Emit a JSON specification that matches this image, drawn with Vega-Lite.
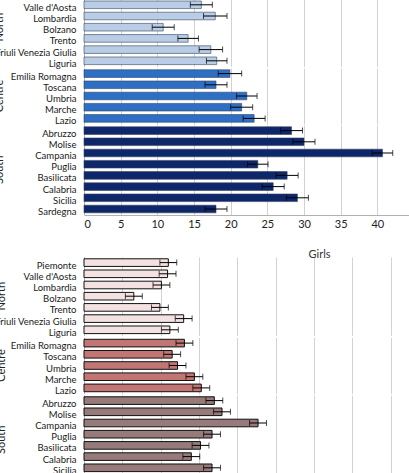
{
  "$schema": "https://vega.github.io/schema/vega-lite/v6.json",
  "padding": {"left": -6, "top": -12, "right": 0, "bottom": 0},
  "background": "white",
  "config": {
    "view": {"stroke": null},
    "font": "Lato",
    "scale": {"bandPaddingInner": 0.32, "bandPaddingOuter": 0.16},
    "axis": {"labelFont": "Lato", "labelColor": "#222", "ticks": false, "tickSize": 0, "domainColor": "#b0b0b0", "gridColor": "#d2d2d2", "title": null},
    "axisY": {"labelFont": "Liberation Sans Narrow, Lato", "labelFontSize": 9.5, "labelColor": "#1a1a1a"},
    "header": {"labelFont": "Lato", "labelFontSize": 11, "labelColor": "#222", "labelAngle": -90},
    "title": {"font": "Lato", "fontSize": 11, "fontWeight": "normal", "color": "#333"}
  },
  "datasets": {
    "boys": [
      {"group": "North", "region": "Piemonte", "value": 17.0, "lo": 15.5, "hi": 18.5},
      {"group": "North", "region": "Valle d'Aosta", "value": 16.0, "lo": 14.5, "hi": 17.5},
      {"group": "North", "region": "Lombardia", "value": 17.9, "lo": 16.3, "hi": 19.5},
      {"group": "North", "region": "Bolzano", "value": 10.8, "lo": 9.3, "hi": 12.3},
      {"group": "North", "region": "Trento", "value": 14.2, "lo": 12.8, "hi": 15.6},
      {"group": "North", "region": "Friuli Venezia Giulia", "value": 17.3, "lo": 15.7, "hi": 18.9},
      {"group": "North", "region": "Liguria", "value": 18.1, "lo": 16.7, "hi": 19.5},
      {"group": "Centre", "region": "Emilia Romagna", "value": 19.9, "lo": 18.3, "hi": 21.5},
      {"group": "Centre", "region": "Toscana", "value": 18.0, "lo": 16.5, "hi": 19.5},
      {"group": "Centre", "region": "Umbria", "value": 22.2, "lo": 20.8, "hi": 23.6},
      {"group": "Centre", "region": "Marche", "value": 21.5, "lo": 20.0, "hi": 23.0},
      {"group": "Centre", "region": "Lazio", "value": 23.2, "lo": 21.7, "hi": 24.7},
      {"group": "South", "region": "Abruzzo", "value": 28.3, "lo": 26.8, "hi": 29.8},
      {"group": "South", "region": "Molise", "value": 30.0, "lo": 28.5, "hi": 31.5},
      {"group": "South", "region": "Campania", "value": 40.7, "lo": 39.3, "hi": 42.1},
      {"group": "South", "region": "Puglia", "value": 23.7, "lo": 22.3, "hi": 25.1},
      {"group": "South", "region": "Basilicata", "value": 27.7, "lo": 26.2, "hi": 29.2},
      {"group": "South", "region": "Calabria", "value": 25.8, "lo": 24.3, "hi": 27.3},
      {"group": "South", "region": "Sicilia", "value": 29.1, "lo": 27.6, "hi": 30.6},
      {"group": "South", "region": "Sardegna", "value": 18.0, "lo": 16.5, "hi": 19.5}
    ],
    "girls": [
      {"group": "North", "region": "Piemonte", "value": 11.0, "lo": 9.9, "hi": 12.1},
      {"group": "North", "region": "Valle d'Aosta", "value": 10.9, "lo": 9.8, "hi": 12.0},
      {"group": "North", "region": "Lombardia", "value": 10.1, "lo": 9.0, "hi": 11.2},
      {"group": "North", "region": "Bolzano", "value": 6.5, "lo": 5.4, "hi": 7.6},
      {"group": "North", "region": "Trento", "value": 9.9, "lo": 8.8, "hi": 11.0},
      {"group": "North", "region": "Friuli Venezia Giulia", "value": 13.0, "lo": 11.9, "hi": 14.1},
      {"group": "North", "region": "Liguria", "value": 11.2, "lo": 10.1, "hi": 12.3},
      {"group": "Centre", "region": "Emilia Romagna", "value": 13.1, "lo": 12.0, "hi": 14.2},
      {"group": "Centre", "region": "Toscana", "value": 11.5, "lo": 10.4, "hi": 12.6},
      {"group": "Centre", "region": "Umbria", "value": 12.2, "lo": 11.1, "hi": 13.3},
      {"group": "Centre", "region": "Marche", "value": 14.4, "lo": 13.3, "hi": 15.5},
      {"group": "Centre", "region": "Lazio", "value": 15.3, "lo": 14.2, "hi": 16.4},
      {"group": "South", "region": "Abruzzo", "value": 17.0, "lo": 15.9, "hi": 18.1},
      {"group": "South", "region": "Molise", "value": 18.0, "lo": 16.9, "hi": 19.1},
      {"group": "South", "region": "Campania", "value": 22.7, "lo": 21.6, "hi": 23.8},
      {"group": "South", "region": "Puglia", "value": 16.7, "lo": 15.6, "hi": 17.8},
      {"group": "South", "region": "Basilicata", "value": 15.2, "lo": 14.1, "hi": 16.3},
      {"group": "South", "region": "Calabria", "value": 14.0, "lo": 12.9, "hi": 15.1},
      {"group": "South", "region": "Sicilia", "value": 16.7, "lo": 15.6, "hi": 17.8},
      {"group": "South", "region": "Sardegna", "value": 10.2, "lo": 9.1, "hi": 11.3}
    ]
  },
  "concat": [
    {
      "data": {"name": "boys"},
      "facet": {"row": {"field": "group", "type": "nominal", "sort": ["North", "Centre", "South"], "title": null,
        "header": {"labelPadding": 73}}},
      "spacing": 1,
      "bounds": "flush",
      "resolve": {"scale": {"y": "independent"}},
      "spec": {
        "width": 330,
        "height": {"step": 11.2},
        "encoding": {
          "y": {"field": "region", "type": "nominal", "sort": null,
            "axis": {"labelPadding": 8, "labelOffset": 3, "domain": true}}
        },
        "layer": [
          {
            "mark": {"type": "bar", "stroke": "#33415c", "strokeWidth": 0.6},
            "encoding": {
              "x": {"field": "value", "type": "quantitative", "scale": {"domain": [0, 45], "nice": false},
                "axis": {"values": [0, 5, 10, 15, 20, 25, 30, 35, 40], "grid": true, "labelFontSize": 11, "labelPadding": 3}},
              "color": {"field": "group", "type": "nominal", "legend": null,
                "scale": {"domain": ["North", "Centre", "South"], "range": ["#b9cde6", "#2e6fc6", "#0e276b"]}}
            }
          },
          {
            "mark": {"type": "errorbar", "color": "black", "ticks": {"size": 6, "thickness": 1}, "rule": {"strokeWidth": 1}},
            "encoding": {
              "x": {"field": "lo", "type": "quantitative", "title": null,
                "axis": {"values": [0, 5, 10, 15, 20, 25, 30, 35, 40], "grid": true, "labelFontSize": 11, "labelPadding": 3}},
              "x2": {"field": "hi"}
            }
          }
        ]
      }
    },
    {
      "data": {"name": "girls"},
      "title": {"text": "Girls", "anchor": "start", "frame": "bounds", "dx": 314, "offset": -3},
      "facet": {"row": {"field": "group", "type": "nominal", "sort": ["North", "Centre", "South"], "title": null,
        "header": {"labelPadding": 71}}},
      "spacing": 1.5,
      "bounds": "flush",
      "resolve": {"scale": {"y": "independent"}},
      "spec": {
        "width": 345,
        "height": {"step": 11.2},
        "encoding": {
          "y": {"field": "region", "type": "nominal", "sort": null,
            "axis": {"labelPadding": 8, "labelOffset": 3, "domain": true}}
        },
        "layer": [
          {
            "mark": {"type": "bar", "stroke": "#111", "strokeWidth": 1},
            "encoding": {
              "x": {"field": "value", "type": "quantitative", "scale": {"domain": [0, 45], "nice": false},
                "axis": {"values": [0, 5, 10, 15, 20, 25, 30, 35, 40], "grid": true, "labelFontSize": 11, "labelPadding": 3}},
              "color": {"field": "group", "type": "nominal", "legend": null,
                "scale": {"domain": ["North", "Centre", "South"], "range": ["#f3e2e1", "#c27674", "#977a7a"]}}
            }
          },
          {
            "mark": {"type": "errorbar", "color": "black", "ticks": {"size": 6, "thickness": 1}, "rule": {"strokeWidth": 1}},
            "encoding": {
              "x": {"field": "lo", "type": "quantitative", "title": null,
                "axis": {"values": [0, 5, 10, 15, 20, 25, 30, 35, 40], "grid": true, "labelFontSize": 11, "labelPadding": 3}},
              "x2": {"field": "hi"}
            }
          }
        ]
      }
    }
  ],
  "resolve": {"scale": {"color": "independent"}},
  "columns": 1,
  "align": "all",
  "spacing": 19
}
